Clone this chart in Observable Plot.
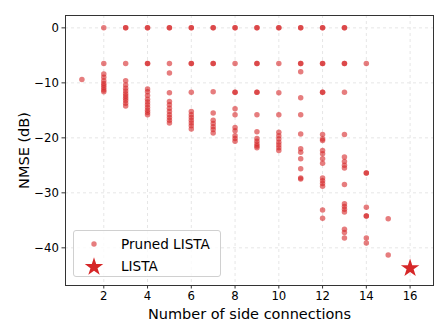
<!DOCTYPE html>
<html><head><meta charset="utf-8">
<script src="https://cdn.jsdelivr.net/npm/d3@7"></script>
<script src="https://cdn.jsdelivr.net/npm/@observablehq/plot@0.6"></script>
<style>
html,body{margin:0;padding:0;background:#fff;}
#wrap{position:relative;width:448px;height:336px;font-family:"DejaVu Sans",sans-serif;}
#legend{position:absolute;left:73px;top:230px;width:148px;height:47px;box-sizing:border-box;border:1px solid #d0d0d0;border-radius:3px;background:rgba(255,255,255,0.8);font-size:13.6px;color:#000;}
.row{position:absolute;left:0;display:flex;align-items:center;}
</style></head>
<body><div id="wrap"></div>
<script>
// Pruned LISTA: NMSE (dB) for each number of side connections (repeated values = overlapping runs)
const x1 = [-9.4];
const x2 = [0, -6.5, -8.4, -9.0, -9.6, -10.1, -10.5, -10.9, -11.3, -11.6];
const x3 = [0, 0, -6.5, -9.6, -10.4, -11.0, -11.5, -12.0, -12.4, -12.8, -13.2, -13.7, -14.2];
const x4 = [0, 0, -6.5, -6.5, -11.1, -11.6, -12.3, -13.0, -13.5, -14.0, -14.5, -15.0, -15.4, -15.8];
const x5 = [0, 0, -6.5, -8.2, -11.8, -13.4, -14.0, -14.6, -15.2, -15.8, -16.3, -16.8, -17.3];
const x6 = [0, 0, -6.5, -6.5, -11.7, -15.2, -15.8, -16.3, -16.8, -17.3, -17.8, -18.4];
const x7 = [0, 0, -6.5, -6.5, -11.6, -15.5, -16.8, -17.4, -18.0, -18.5, -19.1];
const x8 = [0, 0, -6.5, -11.7, -11.7, -14.7, -15.8, -18.1, -18.7, -19.6, -20.1, -20.6];
const x9 = [0, 0, -6.5, -6.5, -11.7, -11.7, -15.8, -18.9, -20.1, -20.6, -21.1, -21.5, -21.8];
const x10 = [0, 0, -6.5, -11.8, -15.8, -19.0, -19.6, -20.2, -20.8, -21.3, -21.8, -22.3];
const x11 = [0, 0, -6.5, -6.5, -8.0, -12.7, -15.8, -19.3, -22.0, -22.6, -23.8, -25.6, -27.3, -27.5];
const x12 = [0, 0, -6.5, -6.5, -11.7, -11.7, -19.4, -20.2, -20.5, -22.3, -22.9, -23.8, -24.6, -27.3, -27.8, -28.3, -28.8, -33.1, -34.6];
const x13 = [0, 0, -6.5, -6.5, -11.7, -19.4, -23.5, -24.3, -25.0, -25.5, -28.5, -32.0, -32.5, -33.0, -33.5, -36.6, -37.2, -38.2];
const x14 = [-6.5, -26.4, -26.4, -32.6, -34.2, -34.2, -38.2, -39.1];
const x15 = [-34.7, -41.3];
const prunedColumns = [x1, x2, x3, x4, x5, x6, x7, x8, x9, x10, x11, x12, x13, x14, x15];
// LISTA (fully connected)
const listaX = [16];
const listaY = [-43.7];
const xTicks = [2, 4, 6, 8, 10, 12, 14, 16];
const yTicks = [0, -10, -20, -30, -40];

const pruned = prunedColumns.flatMap((col, i) => col.map(v => ({n: i + 1, nmse: v})));
const lista = listaX.map((n, i) => ({n, nmse: listaY[i]}));
const red = "#d62728";

const chart = Plot.plot({
  width: 448, height: 336,
  marginLeft: 65, marginRight: 15, marginTop: 15, marginBottom: 51,
  style: {fontFamily: "DejaVu Sans, sans-serif", fontSize: "11.7px", color: "#000", background: "#fff"},
  x: {domain: [0.25, 17.07], ticks: xTicks},
  y: {domain: [-46.85, 2.25], ticks: yTicks},
  marks: [
    Plot.gridX(xTicks, {stroke: "#e6e6e6", strokeOpacity: 1, strokeDasharray: "3,3"}),
    Plot.gridY(yTicks, {stroke: "#e6e6e6", strokeOpacity: 1, strokeDasharray: "3,3"}),
    Plot.axisX(xTicks, {tickSize: 3.5, tickPadding: 3, label: "Number of side connections", labelAnchor: "center", labelOffset: 33, labelArrow: "none", fontSize: 11.7, stroke: "#333"}),
    Plot.axisY(yTicks, {tickSize: 3.5, tickPadding: 3, label: "NMSE (dB)", labelAnchor: "center", labelOffset: 47, labelArrow: "none", fontSize: 11.7, stroke: "#333"}),
    Plot.dot(pruned, {x: "n", y: "nmse", r: 2.75, fill: red, fillOpacity: 0.6, stroke: "none"}),
    Plot.dot(lista, {x: "n", y: "nmse", r: 5.8, symbol: "star", fill: red, stroke: "none"}),
    Plot.frame({stroke: "#333", strokeWidth: 1})
  ]
});
document.getElementById("wrap").appendChild(chart);
chart.querySelectorAll('[aria-label="x-axis label"] text, [aria-label="y-axis label"] text').forEach(t => t.style.fontSize = "14.5px");

const legend = document.createElement("div");
legend.id = "legend";
legend.innerHTML = `
<div class="row" style="top:5px;left:12px;"><svg width="16" height="16"><circle cx="8" cy="8" r="2.7" fill="${red}" fill-opacity="0.6"/></svg><span style="margin-left:19px">Pruned LISTA</span></div>
<div class="row" style="top:25px;left:7px;"><svg width="26" height="20"><path d="${d3.symbol(d3.symbolStar, Math.PI*5.8*5.8)()}" transform="translate(13,11)" fill="${red}"/></svg><span style="margin-left:14px">LISTA</span></div>`;
document.getElementById("wrap").appendChild(legend);
</script></body></html>
